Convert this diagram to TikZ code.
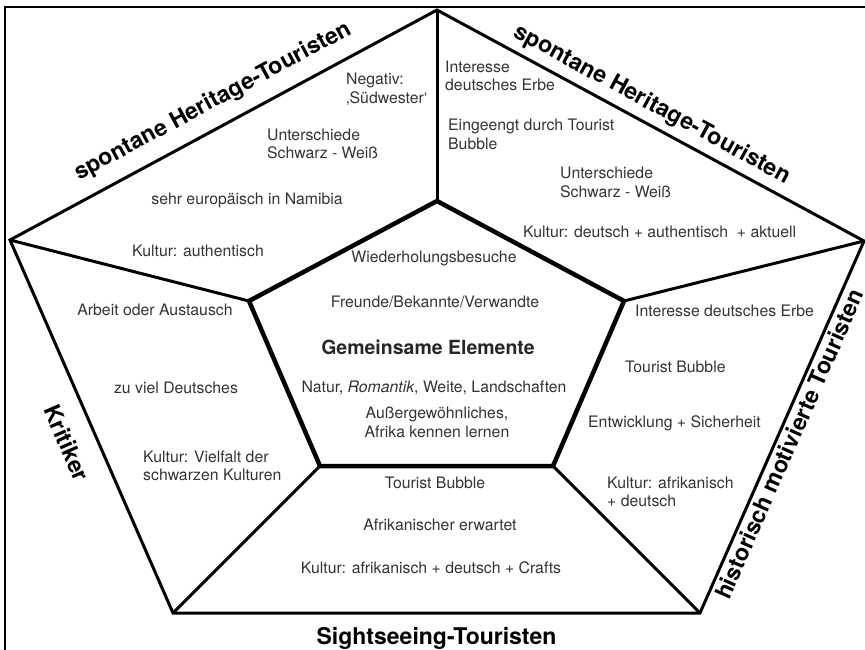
\documentclass[tikz,border=0pt]{standalone}
\usepackage{fontspec}
\setmainfont{TeX Gyre Heros}
\definecolor{txtgray}{HTML}{333333}
\begin{document}
\begin{tikzpicture}[x=1pt,y=-1pt,
  body/.style={font=\fontsize{15.8}{18.5}\selectfont, text=txtgray, inner sep=0pt},
  lbody/.style={body, align=left, anchor=west},
  cbody/.style={body, align=center},
  title/.style={font=\bfseries\fontsize{23}{26}\selectfont, inner sep=0pt},
  frameline/.style={line width=2pt},
  outerline/.style={line width=3pt, line join=miter},
  innerline/.style={line width=4.5pt, line join=miter},
  spoke/.style={line width=3pt}]
\useasboundingbox (0,0) rectangle (865,649);

% frame
\draw[frameline] (5,660) -- (5,7) -- (870,7);

% outer pentagon
\coordinate (O1) at (437,10);
\coordinate (O2) at (864,241);
\coordinate (O3) at (700,613);
\coordinate (O4) at (173,613);
\coordinate (O5) at (10,240);
% inner pentagon
\coordinate (I1) at (437,201);
\coordinate (I2) at (624,301);
\coordinate (I3) at (553,466);
\coordinate (I4) at (320,466);
\coordinate (I5) at (249,301);

\draw[spoke] (I1) -- (O1);
\draw[spoke] (I2) -- (O2);
\draw[spoke] (I3) -- (O3);
\draw[spoke] (I4) -- (O4);
\draw[spoke] (I5) -- (O5);
\draw[outerline] (O1) -- (O2) -- (O3) -- (O4) -- (O5) -- cycle;
\draw[innerline] (I1) -- (I2) -- (I3) -- (I4) -- (I5) -- cycle;

% group titles
\node[title, rotate=28.3, anchor=base] (tl) at (216,107) {spontane Heritage-Touristen};
\node[title, rotate=-28.4, anchor=base] (tr) at (649,110) {spontane Heritage-Touristen};
\node[title, rotate=-66.4] (kr) at (67,443) {Kritiker};
\node[title, rotate=66.2] (hm) at (789,444) {historisch motivierte Touristen};
\node[title, anchor=base] (st) at (436.5,644) {Sightseeing-Touristen};

% upper left segment
\node[lbody] (a1) at (346,89) {Negativ:\\‚Südwester‘};
\node[lbody] (a2) at (267,144) {Unterschiede\\Schwarz - Weiß};
\node[cbody] (a3) at (247,200) {sehr europäisch in Namibia};
\node[cbody] (a4) at (198,251) {Kultur: authentisch};

% upper right segment
\node[lbody] (b1) at (445,76) {Interesse\\deutsches Erbe};
\node[lbody] (b2) at (448,134.5) {Eingeengt durch Tourist\\Bubble};
\node[lbody] (b3) at (560,182.5) {Unterschiede\\Schwarz - Weiß};
\node[lbody] (b4) at (523,232) {Kultur: deutsch + authentisch \ + aktuell};

% lower right segment
\node[lbody] (c1) at (635,311) {Interesse deutsches Erbe};
\node[lbody] (c2) at (625,367) {Tourist Bubble};
\node[lbody] (c3) at (588,423) {Entwicklung + Sicherheit};
\node[lbody] (c4) at (607,492) {Kultur: afrikanisch\\+ deutsch};

% bottom segment
\node[cbody] (d1) at (435,483) {Tourist Bubble};
\node[cbody] (d2) at (440,525) {Afrikanischer erwartet};
\node[cbody] (d3) at (431,568) {Kultur: afrikanisch + deutsch + Crafts};

% lower left segment
\node[cbody] (e1) at (155,310) {Arbeit oder Austausch};
\node[cbody] (e2) at (176,388) {zu viel Deutsches};
\node[lbody] (e3) at (143,466) {Kultur: Vielfalt der\\schwarzen Kulturen};

% centre
\node[cbody] (m1) at (434,258) {Wiederholungsbesuche};
\node[cbody] (m2) at (435,302) {Freunde/Bekannte/Verwandte};
\node[font=\bfseries\fontsize{19.5}{22}\selectfont, text=black!85, inner sep=0pt] (m3) at (428,347) {Gemeinsame Elemente};
\node[cbody] (m4) at (434,388) {Natur, \textit{Romantik}, Weite, Landschaften};
\node[cbody] (m5) at (437,422.5) {Außergewöhnliches,\\Afrika kennen lernen};
\end{tikzpicture}
\end{document}
